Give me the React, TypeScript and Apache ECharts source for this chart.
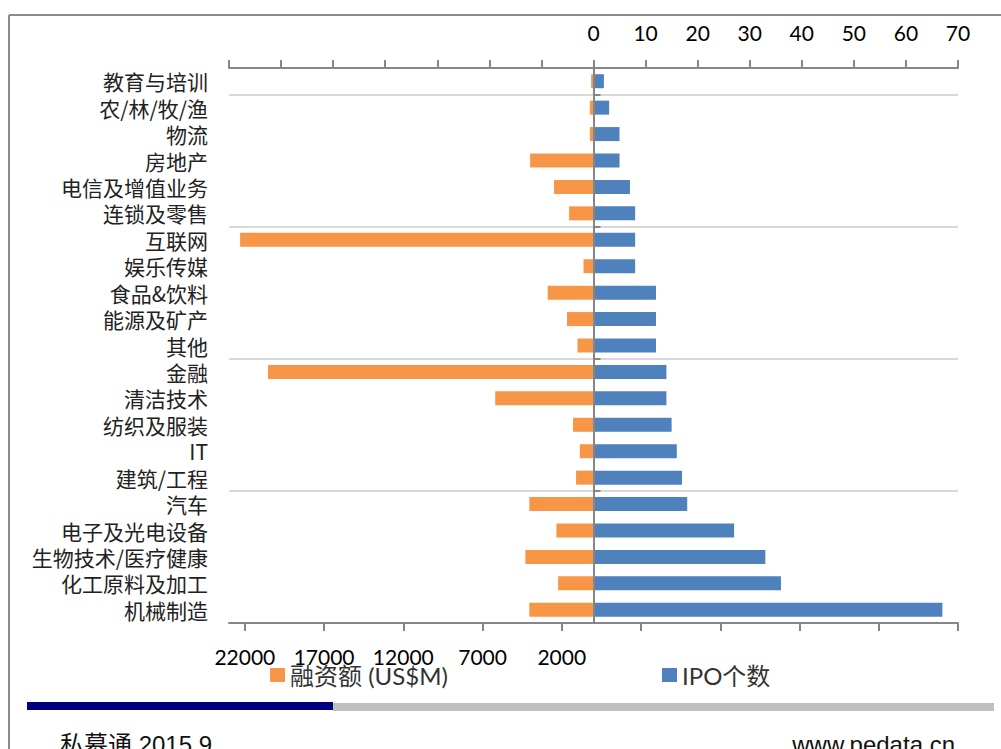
import React, { useEffect, useRef } from 'react';
import * as echarts from 'echarts';

// Categories listed bottom -> top (category axis draws index 0 at the bottom)
const categories = [
  '机械制造', '化工原料及加工', '生物技术/医疗健康', '电子及光电设备', '汽车',
  '建筑/工程', 'IT', '纺织及服装', '清洁技术', '金融',
  '其他', '能源及矿产', '食品&饮料', '娱乐传媒', '互联网',
  '连锁及零售', '电信及增值业务', '房地产', '物流', '农/林/牧/渔',
  '教育与培训',
];

const ipoCounts = [67, 36, 33, 27, 18, 17, 16, 15, 14, 14, 12, 12, 12, 8, 8, 8, 7, 5, 5, 3, 2];

const fundingUSDm = [4050, 2230, 4300, 2340, 4050, 1100, 860, 1290, 6200, 20540, 1010, 1670, 2890, 630, 22300, 1540, 2490, 4000, 230, 230, 150];

const ipoTickLabels = [0, 10, 20, 30, 40, 50, 60, 70];
const fundingTickLabels = [22000, 17000, 12000, 7000, 2000];
const fundingTicks = [22000, 17000, 12000, 7000, 2000, -3000, -8000, -13000, -18000, -23000];

const SERIES_FUNDING = '融资额 (US$M)';
const SERIES_IPO = 'IPO个数';

const LATIN = 'Lato, "Noto Sans CJK SC", sans-serif';
const CJK = '"Noto Sans CJK SC", sans-serif';
const AXIS_GRAY = '#868686';

export default function App() {
  const ref = useRef<HTMLDivElement>(null);

  useEffect(() => {
    document.body.style.margin = '0';
    const chart = echarts.init(ref.current as HTMLDivElement, null, { renderer: 'svg' });
    const legendText = { fontSize: 24, fontFamily: LATIN, color: '#333' };
    chart.setOption({
      animation: false,
      backgroundColor: '#ffffff',
      grid: { left: 229, right: 43, top: 68, bottom: 126, containLabel: false },
      legend: [
        {
          data: [SERIES_FUNDING],
          left: 270,
          top: 663,
          padding: 0,
          icon: 'rect',
          itemWidth: 15,
          itemHeight: 14,
          textStyle: legendText,
        },
        {
          data: [SERIES_IPO],
          left: 662,
          top: 663,
          padding: 0,
          icon: 'rect',
          itemWidth: 15,
          itemHeight: 14,
          textStyle: legendText,
        },
      ],
      xAxis: [
        {
          type: 'value',
          position: 'bottom',
          inverse: true,
          min: -23000,
          max: 23000,
          splitLine: { show: false },
          axisLine: { show: true, onZero: false, lineStyle: { color: AXIS_GRAY, width: 2 } },
          axisTick: {
            show: true,
            length: 8,
            customValues: fundingTicks,
            lineStyle: { color: AXIS_GRAY, width: 2 },
          },
          axisLabel: {
            customValues: fundingTickLabels,
            formatter: (v: number) => String(v),
            fontSize: 21,
            fontFamily: LATIN,
            color: '#000',
            margin: 23,
          },
        },
        {
          type: 'value',
          position: 'top',
          min: -70,
          max: 70,
          interval: 10,
          splitLine: { show: false },
          axisLine: { show: true, onZero: false, lineStyle: { color: AXIS_GRAY, width: 2 } },
          axisTick: { show: true, length: 8, lineStyle: { color: AXIS_GRAY, width: 2 } },
          axisLabel: {
            customValues: ipoTickLabels,
            formatter: (v: number) => String(v),
            fontSize: 21,
            fontFamily: LATIN,
            color: '#000',
            margin: 25,
          },
        },
      ],
      yAxis: [
        {
          type: 'category',
          data: categories,
          position: 'left',
          axisLine: { show: false, onZero: false },
          axisTick: { show: false },
          axisLabel: {
            interval: 0,
            fontSize: 21,
            lineHeight: 24,
            fontFamily: CJK,
            color: '#222',
            margin: 21,
          },
          splitLine: {
            show: true,
            interval: 4,
            lineStyle: { color: '#d9d9d9', width: 2 },
          },
        },
        {
          type: 'category',
          data: categories,
          position: 'left',
          z: 10,
          axisLine: { show: true, onZero: true, onZeroAxisIndex: 1, lineStyle: { color: AXIS_GRAY, width: 2 } },
          axisTick: { show: true, inside: true, interval: 4, length: 7, lineStyle: { color: AXIS_GRAY, width: 2 } },
          axisLabel: { show: false },
          splitLine: { show: false },
        },
      ],
      series: [
        {
          name: SERIES_IPO,
          type: 'bar',
          xAxisIndex: 1,
          yAxisIndex: 0,
          data: ipoCounts,
          barWidth: 14,
          barGap: '-100%',
          itemStyle: { color: '#4F81BD' },
        },
        {
          name: SERIES_FUNDING,
          type: 'bar',
          xAxisIndex: 0,
          yAxisIndex: 0,
          data: fundingUSDm,
          barWidth: 14,
          barGap: '-100%',
          itemStyle: { color: '#F79646' },
        },
      ],
      graphic: [
        {
          type: 'line',
          shape: { x1: 9, y1: 15, x2: 1001, y2: 15 },
          style: { stroke: '#8c8c8c', lineWidth: 2 },
        },
        {
          type: 'line',
          shape: { x1: 9, y1: 15, x2: 9, y2: 749 },
          style: { stroke: '#8c8c8c', lineWidth: 2 },
        },
        {
          type: 'rect',
          shape: { x: 333, y: 703, width: 661, height: 8 },
          style: { fill: '#c0c0c0' },
        },
        {
          type: 'rect',
          shape: { x: 27, y: 702, width: 306, height: 8 },
          style: { fill: '#000080' },
        },
        {
          type: 'text',
          x: 60,
          y: 744,
          style: {
            text: '私募通 2015.9',
            fontSize: 24,
            fontFamily: '"Liberation Sans", "Noto Sans CJK SC", sans-serif',
            fill: '#111',
            align: 'left',
            verticalAlign: 'middle',
          },
        },
        {
          type: 'text',
          x: 955,
          y: 744,
          style: {
            text: 'www.pedata.cn',
            fontSize: 24,
            fontFamily: '"Liberation Sans", sans-serif',
            fill: '#111',
            align: 'right',
            verticalAlign: 'middle',
          },
        },
      ],
    });
    return () => chart.dispose();
  }, []);

  return (
    <div
      ref={ref}
      style={{ width: 1001, height: 749, background: '#fff', position: 'absolute', left: 0, top: 0 }}
    />
  );
}
